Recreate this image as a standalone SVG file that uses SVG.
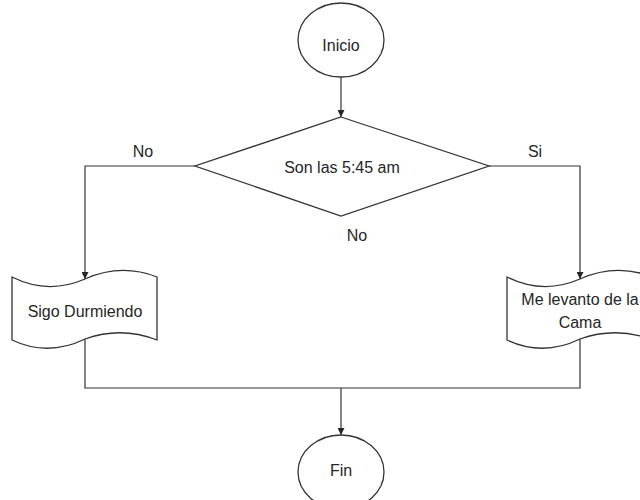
<svg xmlns="http://www.w3.org/2000/svg" width="640" height="500" viewBox="0 0 640 500">
<style>
.shape{fill:#ffffff;stroke:#333333;stroke-width:1.3}
.line{fill:none;stroke:#333333;stroke-width:1.2}
text{font-family:"Liberation Sans",Arial,sans-serif;font-size:16px;fill:#262626;text-anchor:middle}
</style>
<defs>
<marker id="arr" viewBox="0 0 10 10" refX="10" refY="5" markerWidth="7" markerHeight="7" markerUnits="userSpaceOnUse" orient="auto">
<path d="M0,0 L10,5 L0,10 z" fill="#262626"/>
</marker>
</defs>
<rect width="640" height="500" fill="#ffffff"/>
<g id="connectors">
<path class="line" d="M341,77 L341,117" marker-end="url(#arr)"/>
<path class="line" d="M195,166 L85,166 L85,279" marker-end="url(#arr)"/>
<path class="line" d="M489,166 L580,166 L580,279" marker-end="url(#arr)"/>
<path class="line" d="M85,339 L85,388 L580,388 L580,339"/>
<path class="line" d="M341,388 L341,435" marker-end="url(#arr)"/>
<text x="143" y="157">No</text>
<text x="535" y="157">Si</text>
<text x="357" y="241">No</text>
</g>
<g id="inicio">
<ellipse class="shape" cx="341" cy="40" rx="43" ry="37"/>
<text x="341" y="51">Inicio</text>
</g>
<g id="decision">
<polygon class="shape" points="341,117 489,166 341,216 195,166"/>
<text x="342" y="173">Son las 5:45 am</text>
</g>
<g id="sigo">
<path class="shape" d="M12,277 Q48,295 85,279 Q121,263 157,277 L157,340 Q121,326 85,339 Q48,357 12,340 Z"/>
<text x="85" y="317">Sigo Durmiendo</text>
</g>
<g id="levanto">
<path class="shape" d="M507,277 Q543,295 580,279 Q616,263 653,277 L653,340 Q616,326 580,339 Q543,357 507,340 Z"/>
<text x="580" y="305">Me levanto de la</text>
<text x="580" y="328">Cama</text>
</g>
<g id="fin">
<ellipse class="shape" cx="341" cy="472" rx="43" ry="37"/>
<text x="341" y="476">Fin</text>
</g>
</svg>
